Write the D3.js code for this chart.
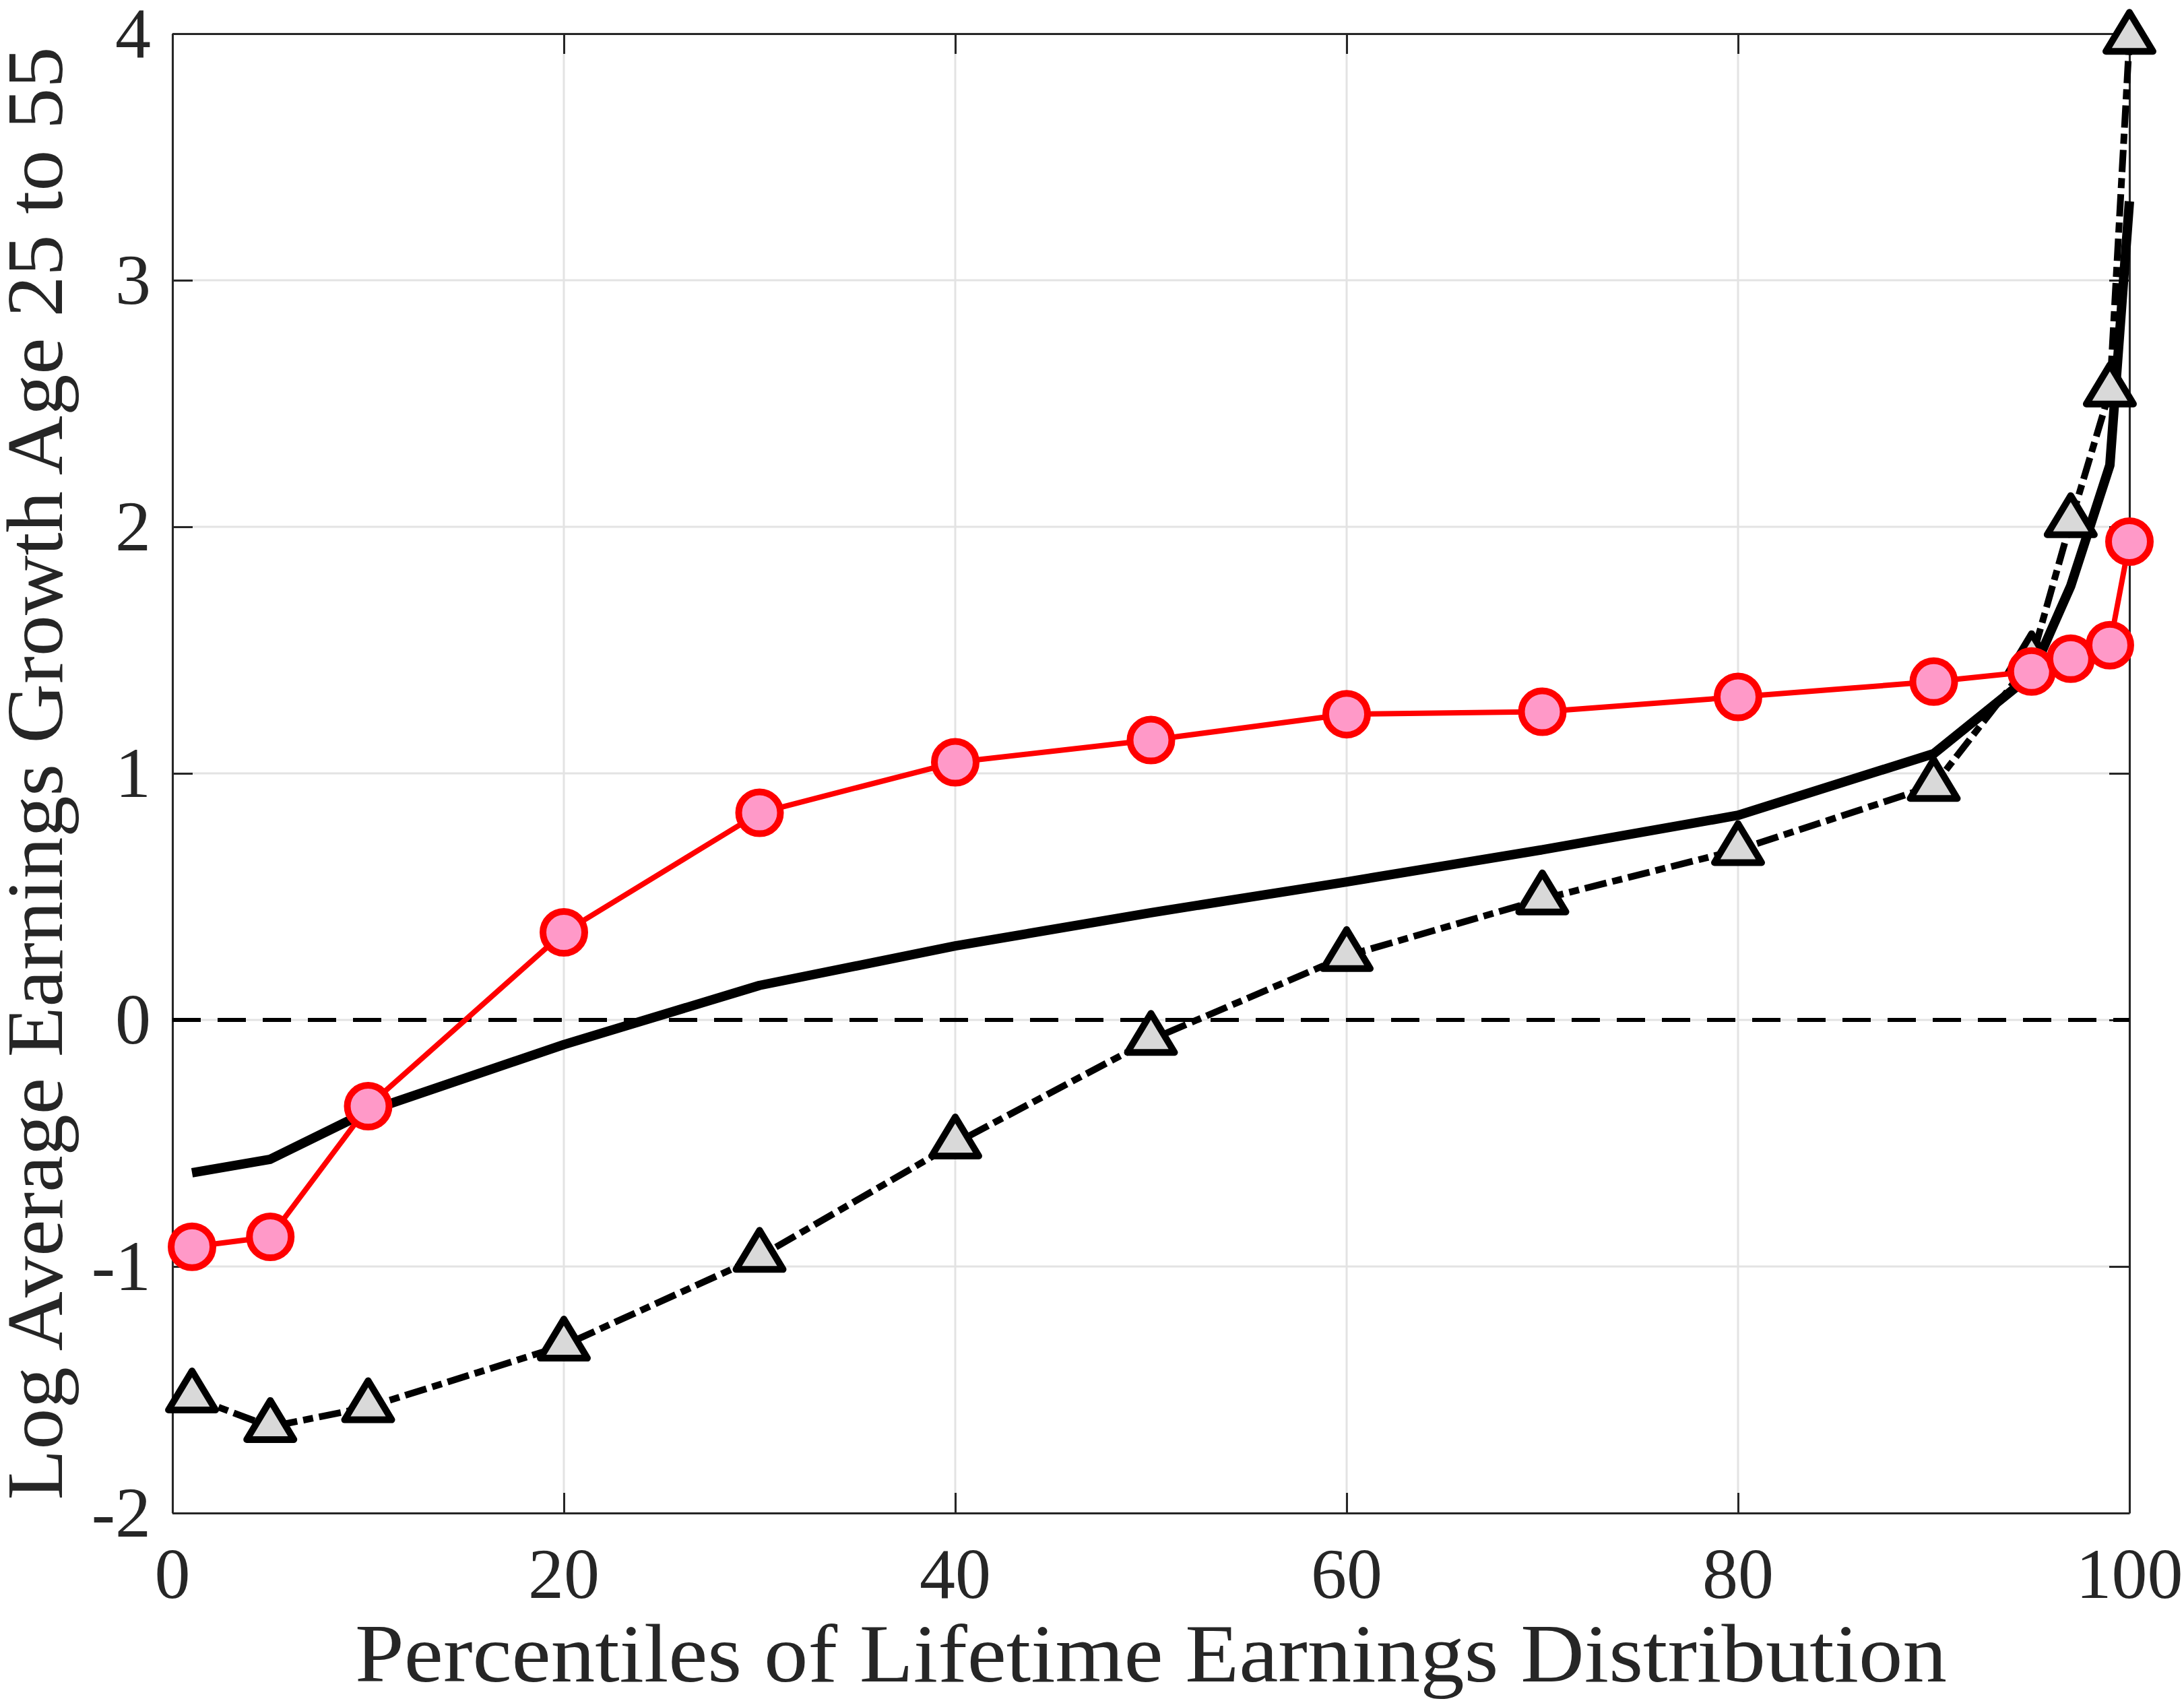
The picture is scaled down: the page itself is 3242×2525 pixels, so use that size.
<!DOCTYPE html>
<html>
<head>
<meta charset="utf-8">
<script src="https://cdn.jsdelivr.net/npm/d3@7"></script>
<style>
  body { margin: 0; background: #fff; }
  text { font-family: "Liberation Serif", "DejaVu Serif", serif; fill: #262626; }
</style>
</head>
<body>
<script>
// percentiles of lifetime earnings distribution
var percentiles = [1, 5, 10, 20, 30, 40, 50, 60, 70, 80, 90, 95, 97, 99, 100];

// log average earnings growth, age 25 to 55
var solidSeries = [-0.62, -0.565, -0.37, -0.10, 0.14, 0.30, 0.435, 0.56, 0.69, 0.83, 1.08, 1.40, 1.76, 2.25, 3.32];
var circleSeries = [-0.92, -0.88, -0.35, 0.355, 0.84, 1.045, 1.135, 1.24, 1.25, 1.31, 1.372, 1.413, 1.465, 1.52, 1.94];
var triangleSeries = [-1.53, -1.65, -1.57, -1.32, -0.96, -0.50, -0.08, 0.26, 0.49, 0.69, 0.95, 1.46, 2.02, 2.55, 3.98];

var xTicks = [0, 20, 40, 60, 80, 100];
var yTicks = [-2, -1, 0, 1, 2, 3, 4];

var xTitle = "Percentiles of Lifetime Earnings Distribution";
var yTitle = "Log Average Earnings Growth Age 25 to 55";

drawChart();

function drawChart() {
	var width = 3242,
		height = 2525,
		left = 256, right = 3161, top = 50, bottom = 2246;

	var x = d3.scaleLinear().domain([0, 100]).range([left, right]);
	var y = d3.scaleLinear().domain([-2, 4]).range([bottom, top]);

	var svg = d3.select("body").append("svg")
		.attr("width", width)
		.attr("height", height);

	// grid
	var grid = svg.append("g").attr("stroke", "#e3e3e3").attr("stroke-width", 3);
	grid.selectAll(".gx").data(xTicks).enter().append("line")
		.attr("x1", function(d) { return x(d); }).attr("x2", function(d) { return x(d); })
		.attr("y1", top).attr("y2", bottom);
	grid.selectAll(".gy").data(yTicks).enter().append("line")
		.attr("y1", function(d) { return y(d); }).attr("y2", function(d) { return y(d); })
		.attr("x1", left).attr("x2", right);

	// axes with inward ticks on all four sides
	var tk = 30;
	var axB = svg.append("g").attr("transform", "translate(0," + bottom + ")")
		.call(d3.axisBottom(x).tickValues(xTicks).tickSizeInner(-tk).tickSizeOuter(0).tickFormat(""));
	var axT = svg.append("g").attr("transform", "translate(0," + top + ")")
		.call(d3.axisTop(x).tickValues(xTicks).tickSizeInner(-tk).tickSizeOuter(0).tickFormat(""));
	var axL = svg.append("g").attr("transform", "translate(" + left + ",0)")
		.call(d3.axisLeft(y).tickValues(yTicks).tickSizeInner(-tk).tickSizeOuter(0).tickFormat(""));
	var axR = svg.append("g").attr("transform", "translate(" + right + ",0)")
		.call(d3.axisRight(y).tickValues(yTicks).tickSizeInner(-tk).tickSizeOuter(0).tickFormat(""));
	[axB, axT, axL, axR].forEach(function(a) {
		a.selectAll("path, line").attr("stroke", "#262626").attr("stroke-width", 3);
	});

	// tick labels
	svg.append("g").selectAll("text").data(xTicks).enter().append("text")
		.attr("x", function(d) { return x(d); })
		.attr("y", 2372)
		.attr("text-anchor", "middle")
		.attr("font-size", 106)
		.text(function(d) { return d; });
	svg.append("g").selectAll("text").data(yTicks).enter().append("text")
		.attr("x", 224)
		.attr("y", function(d) { return y(d) + 35; })
		.attr("text-anchor", "end")
		.attr("font-size", 106)
		.text(function(d) { return d; });

	// titles
	svg.append("text")
		.attr("x", (left + right) / 2).attr("y", 2496)
		.attr("text-anchor", "middle")
		.attr("font-size", 122)
		.attr("textLength", 2363).attr("lengthAdjust", "spacingAndGlyphs")
		.text(xTitle);
	svg.append("text")
		.attr("transform", "translate(92," + (top + bottom) / 2 + ") rotate(-90)")
		.attr("text-anchor", "middle")
		.attr("font-size", 118)
		.attr("textLength", 2157).attr("lengthAdjust", "spacingAndGlyphs")
		.text(yTitle);

	// zero reference line
	svg.append("line")
		.attr("x1", x(0)).attr("x2", x(100))
		.attr("y1", y(0)).attr("y2", y(0))
		.attr("stroke", "#000").attr("stroke-width", 6)
		.attr("stroke-dasharray", "42,25");

	var line = function(vals) {
		return d3.line()
			.x(function(d, i) { return x(percentiles[i]); })
			.y(function(d) { return y(d); })(vals);
	};

	// solid black line
	svg.append("path")
		.attr("d", line(solidSeries))
		.attr("fill", "none").attr("stroke", "#000").attr("stroke-width", 14)
		.attr("stroke-linejoin", "round").attr("stroke-linecap", "butt");

	// dash-dot line with triangles
	svg.append("path")
		.attr("d", line(triangleSeries))
		.attr("fill", "none").attr("stroke", "#000").attr("stroke-width", 10)
		.attr("stroke-dasharray", "33,9,15,9")
		.attr("stroke-linejoin", "round");
	svg.append("g").selectAll("path").data(triangleSeries).enter().append("path")
		.attr("transform", function(d, i) { return "translate(" + x(percentiles[i]) + "," + y(d) + ")"; })
		.attr("d", "M0,-39L35,19L-35,19Z")
		.attr("fill", "#d9d9d9").attr("stroke", "#000").attr("stroke-width", 10)
		.attr("stroke-linejoin", "round");

	// red line with pink circles
	svg.append("path")
		.attr("d", line(circleSeries))
		.attr("fill", "none").attr("stroke", "#ff0000").attr("stroke-width", 8)
		.attr("stroke-linejoin", "round");
	svg.append("g").selectAll("circle").data(circleSeries).enter().append("circle")
		.attr("cx", function(d, i) { return x(percentiles[i]); })
		.attr("cy", function(d) { return y(d); })
		.attr("r", 31)
		.attr("fill", "#ff99c8").attr("stroke", "#ff0000").attr("stroke-width", 10);
}
</script>
</body>
</html>
